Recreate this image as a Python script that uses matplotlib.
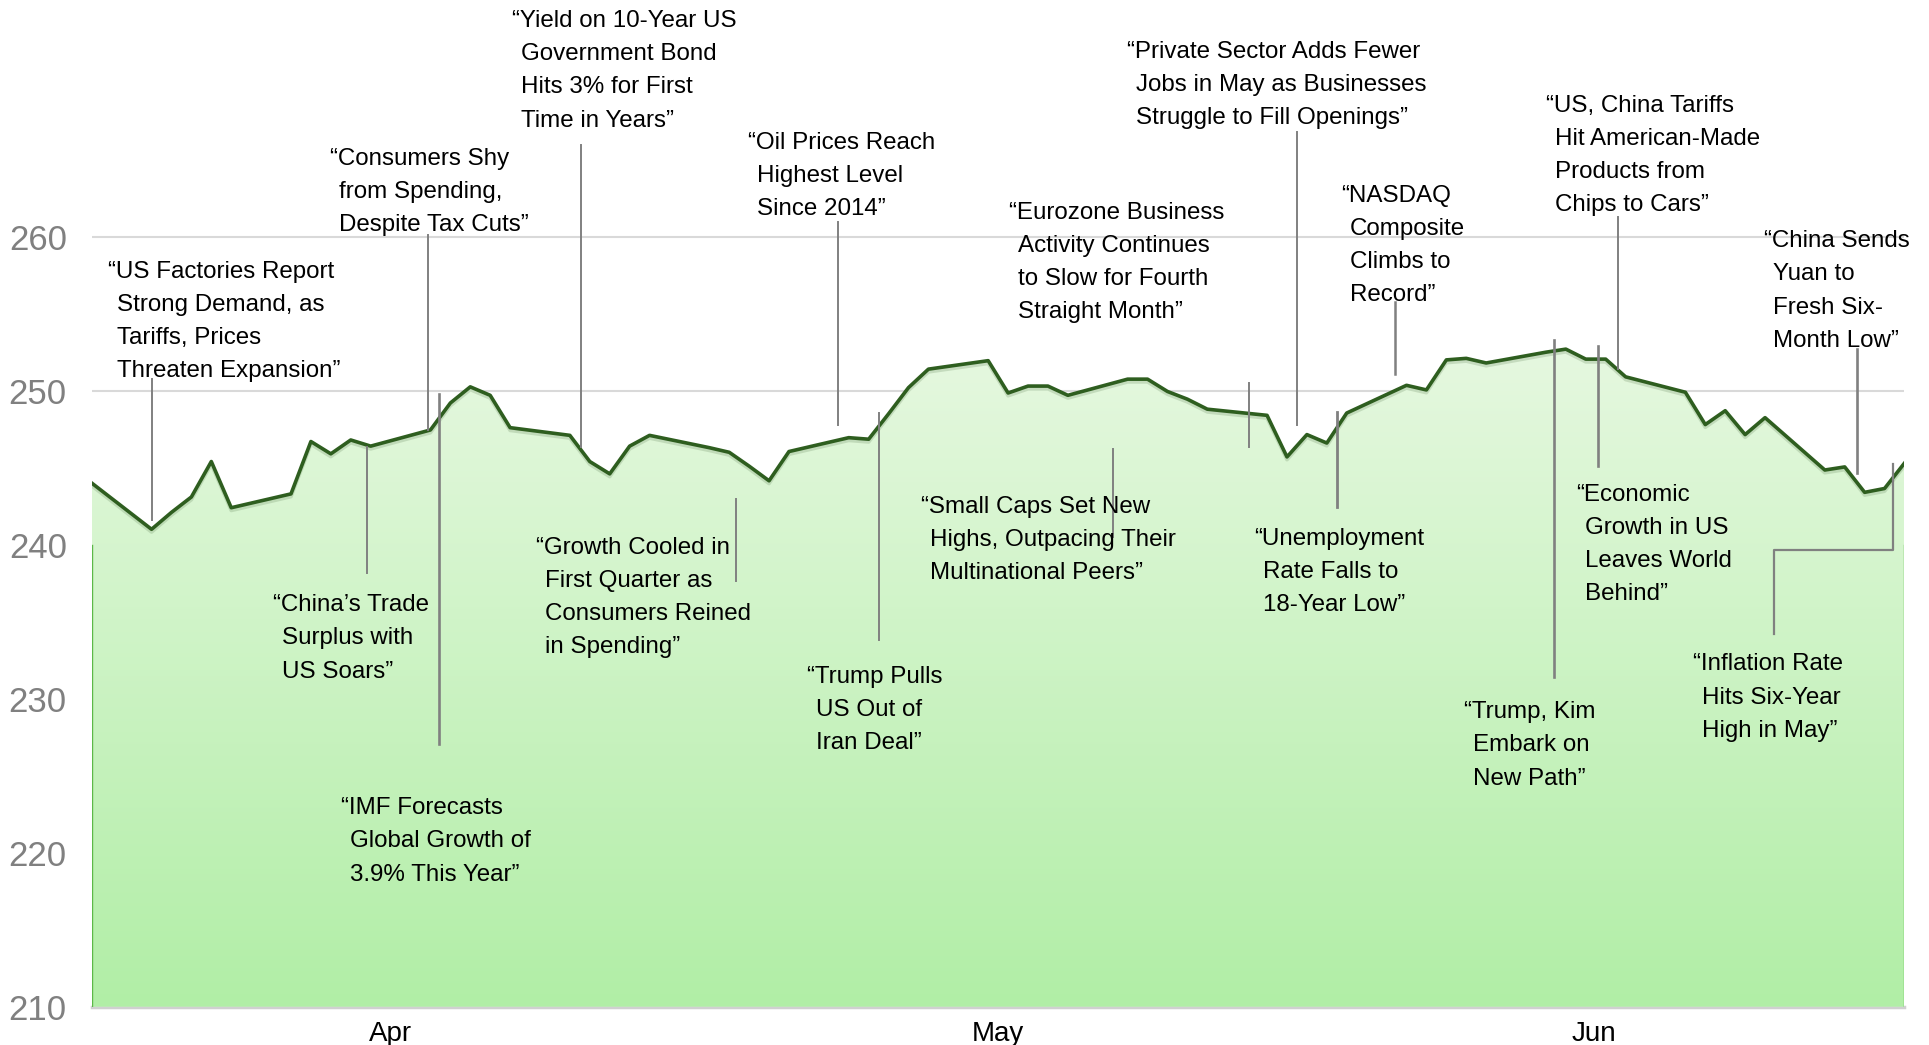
import numpy as np
import matplotlib
matplotlib.use('Agg')
import matplotlib.pyplot as plt
import matplotlib.patheffects as pe
import matplotlib.transforms as mtransforms
from matplotlib.colors import LinearSegmentedColormap

plt.rcParams['font.family'] = ['Liberation Sans', 'DejaVu Sans']

# weekday closes, Q2 2018
dates = np.array([
    '2018-03-30',
    '2018-04-02', '2018-04-03', '2018-04-04', '2018-04-05', '2018-04-06',
    '2018-04-09', '2018-04-10', '2018-04-11', '2018-04-12', '2018-04-13',
    '2018-04-16', '2018-04-17', '2018-04-18', '2018-04-19', '2018-04-20',
    '2018-04-23', '2018-04-24', '2018-04-25', '2018-04-26', '2018-04-27',
    '2018-04-30', '2018-05-01', '2018-05-02', '2018-05-03', '2018-05-04',
    '2018-05-07', '2018-05-08', '2018-05-09', '2018-05-10', '2018-05-11',
    '2018-05-14', '2018-05-15', '2018-05-16', '2018-05-17', '2018-05-18',
    '2018-05-21', '2018-05-22', '2018-05-23', '2018-05-24', '2018-05-25',
    '2018-05-28', '2018-05-29', '2018-05-30', '2018-05-31', '2018-06-01',
    '2018-06-04', '2018-06-05', '2018-06-06', '2018-06-07', '2018-06-08',
    '2018-06-11', '2018-06-12', '2018-06-13', '2018-06-14', '2018-06-15',
    '2018-06-18', '2018-06-19', '2018-06-20', '2018-06-21', '2018-06-22',
    '2018-06-25', '2018-06-26', '2018-06-27', '2018-06-28', '2018-06-29',
], dtype='datetime64[D]')

values = [
    244.0,
    241.0, 242.1, 243.1, 245.4, 242.4,
    243.3, 246.7, 245.9, 246.8, 246.4,
    247.45, 249.2, 250.25, 249.7, 247.6,
    247.1, 245.4, 244.6, 246.4, 247.1,
    246.3, 246.0, 245.1, 244.15, 246.05,
    246.95, 246.85, 248.5, 250.2, 251.4,
    251.95, 249.85, 250.3, 250.3, 249.7,
    250.75, 250.75, 249.95, 249.45, 248.8,
    248.4, 245.7, 247.15, 246.6, 248.55,
    250.35, 250.05, 252.0, 252.1, 251.8,
    252.5, 252.7, 252.05, 252.05, 250.9,
    249.9, 247.8, 248.7, 247.15, 248.25,
    244.85, 245.05, 243.4, 243.65, 245.3,
]

month_labels = ['Apr', 'May', 'Jun']
y_ticks = [210, 220, 230, 240, 250, 260]

headlines = [
    '“US Factories Report\nStrong Demand, as\nTariffs, Prices\nThreaten Expansion”',
    '“Consumers Shy\nfrom Spending,\nDespite Tax Cuts”',
    '“Yield on 10-Year US\nGovernment Bond\nHits 3% for First\nTime in Years”',
    '“Oil Prices Reach\nHighest Level\nSince 2014”',
    '“Eurozone Business\nActivity Continues\nto Slow for Fourth\nStraight Month”',
    '“Private Sector Adds Fewer\nJobs in May as Businesses\nStruggle to Fill Openings”',
    '“NASDAQ\nComposite\nClimbs to\nRecord”',
    '“US, China Tariffs\nHit American-Made\nProducts from\nChips to Cars”',
    '“China Sends\nYuan to\nFresh Six-\nMonth Low”',
    '“China’s Trade\nSurplus with\nUS Soars”',
    '“IMF Forecasts\nGlobal Growth of\n3.9% This Year”',
    '“Growth Cooled in\nFirst Quarter as\nConsumers Reined\nin Spending”',
    '“Trump Pulls\nUS Out of\nIran Deal”',
    '“Small Caps Set New\nHighs, Outpacing Their\nMultinational Peers”',
    '“Unemployment\nRate Falls to\n18-Year Low”',
    '“Trump, Kim\nEmbark on\nNew Path”',
    '“Economic\nGrowth in US\nLeaves World\nBehind”',
    '“Inflation Rate\nHits Six-Year\nHigh in May”',
]

# layout: (left x in days from 1 Apr, first line centre value)
text_pos = [
    (-1.17, 257.88), (9.94, 265.23), (19.09, 274.17), (30.95, 266.27),
    (44.04, 261.71), (49.97, 272.18), (60.71, 262.83), (71.02, 268.66),
    (81.95, 259.87), (7.10, 236.23), (10.50, 223.05), (20.32, 239.98),
    (33.91, 231.59), (39.65, 242.62), (56.33, 240.54), (66.89, 229.28),
    (72.51, 243.42), (78.37, 232.39),
]
# leader lines: (x, y top, y bottom, width)
leaders = [
    (1.01, 250.76, 241.6, 1.4), (14.86, 260.11, 247.45, 1.4),
    (22.56, 265.95, 246.36, 1.4), (35.46, 260.97, 247.77, 1.4),
    (56.1, 250.5, 246.34, 1.4), (58.48, 266.82, 247.77, 1.4),
    (63.42, 255.78, 251.08, 1.8), (74.62, 261.3, 251.41, 1.4),
    (86.6, 252.69, 244.64, 1.9), (11.84, 246.32, 238.14, 1.4),
    (15.41, 249.79, 227.06, 1.9), (30.34, 242.95, 237.66, 1.4),
    (37.52, 248.57, 233.81, 1.4), (49.27, 246.21, 240.5, 1.4),
    (60.5, 248.64, 242.47, 2.0), (71.42, 253.29, 231.44, 1.9),
    (73.61, 252.92, 245.13, 1.9),
]
elbow_x = [82.45, 82.45, 88.44, 88.44]
elbow_y = [234.23, 239.66, 239.66, 245.24]
line_pitch = 2.156

x = (dates - np.datetime64('2018-04-01')).astype(float)
x_min, x_max = x[0], x[-1]

fig = plt.figure(figsize=(19.29, 10.45), dpi=100)
ax = fig.add_axes([0.04759, 0.03665, 0.9397, 0.96335])

# gradient area under the line
cmap = LinearSegmentedColormap.from_list('g', ['#b1eea6', '#e6f8e0'])
grad = np.linspace(0, 1, 256).reshape(-1, 1)
im = ax.imshow(grad, extent=[x_min, x_max, 210, 253], origin='lower',
               aspect='auto', cmap=cmap, zorder=1)
area = ax.fill_between(x, values, 210, facecolor='none', edgecolor='none')
im.set_clip_path(area.get_paths()[0], transform=ax.transData)

ax.plot(x, values, color='#2e5e1f', lw=2.6, zorder=3,
        path_effects=[pe.SimpleLineShadow(offset=(0, -2), shadow_color='#6a8a60', alpha=0.25),
                      pe.Normal()])
ax.plot([x_min, x_min], [210, 240], color='#5cb848', lw=1.0, zorder=2)
ax.plot([x_max, x_max], [210, 240], color='#5cb848', lw=1.0, zorder=2)

for lx, ya, yb, lw in leaders:
    ax.plot([lx, lx], [ya, yb], color='#808080', lw=lw, zorder=4)
ax.plot(elbow_x, elbow_y, color='#808080', lw=1.6, zorder=4)

# hanging indent after the opening quote
indent = mtransforms.offset_copy(ax.transData, fig=fig, x=6.5, y=0, units='points')
for txt, (tx, ty) in zip(headlines, text_pos):
    for i, line in enumerate(txt.split('\n')):
        ax.text(tx, ty - i * line_pitch, line, fontsize=17.4, color='black',
                ha='left', va='center_baseline', zorder=5, clip_on=False,
                transform=ax.transData if i == 0 else indent)

ax.set_xlim(x_min, x_max)
ax.set_ylim(210, 275.37)
ax.set_yticks(y_ticks)
ax.set_xticks([13.0, 43.5, 73.4])
ax.set_xticklabels(month_labels)
ax.yaxis.grid(True, color='#d9d9d9', lw=1.5)
ax.set_axisbelow(True)
for s in ['top', 'right', 'left']:
    ax.spines[s].set_visible(False)
ax.spines['bottom'].set_color('#d0d0d0')
ax.spines['bottom'].set_linewidth(2.5)
ax.spines['bottom'].set_zorder(0.5)
ax.tick_params(axis='y', length=0, labelsize=25, labelcolor='#808080', pad=18)
ax.tick_params(axis='x', length=0, labelsize=20, labelcolor='black', pad=10)

fig.savefig('out.png', dpi=100)
